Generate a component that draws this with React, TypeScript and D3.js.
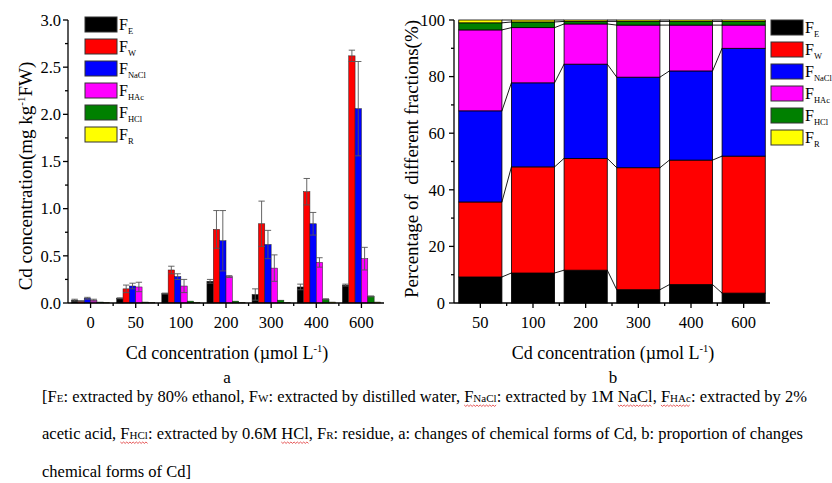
import React, { useEffect, useRef } from 'react';
import * as d3 from 'd3';

// fraction names, subscripts and colours
const series = ['E', 'W', 'NaCl', 'HAc', 'HCl', 'R'];
const colors = ['#000000', '#ff0000', '#0000ff', '#ff00ff', '#008000', '#ffff00'];

// panel a: concentration (mg/kg FW)
const catsA = ['0', '50', '100', '200', '300', '400', '600'];
const FE = [0.03, 0.05, 0.10, 0.23, 0.09, 0.17, 0.19];
const FW = [0.02, 0.15, 0.35, 0.78, 0.84, 1.18, 2.62];
const FNaCl = [0.05, 0.18, 0.28, 0.66, 0.62, 0.84, 2.06];
const FHAc = [0.03, 0.17, 0.18, 0.28, 0.37, 0.43, 0.47];
const FHCl = [0.01, 0.01, 0.02, 0.02, 0.03, 0.04, 0.07];
const FR = [0.005, 0.005, 0.008, 0.005, 0.005, 0.01, 0.01];
const errFE = [0.01, 0.005, 0.005, 0.02, 0.06, 0.03, 0.01];
const errFW = [0.005, 0.04, 0.04, 0.2, 0.24, 0.14, 0.06];
const errFNaCl = [0.01, 0.03, 0.03, 0.32, 0.15, 0.12, 0.5];
const errFHAc = [0.01, 0.05, 0.07, 0.01, 0.14, 0.05, 0.12];
const errFHCl = [0, 0, 0, 0, 0, 0.005, 0.005];
const errFR = [0, 0, 0, 0, 0, 0, 0];

// panel b: percentage of fractions
const catsB = ['50', '100', '200', '300', '400', '600'];
const pFE = [9.2, 10.6, 11.6, 4.7, 6.5, 3.5];
const pFW = [26.5, 37.5, 39.5, 43.1, 44.0, 48.4];
const pFNaCl = [32.2, 29.7, 33.3, 32.0, 31.5, 38.1];
const pFHAc = [28.6, 19.5, 14.2, 18.4, 16.2, 8.2];
const pFHCl = [2.5, 2.0, 0.9, 1.3, 1.3, 1.3];
const pFR = [1.0, 0.7, 0.5, 0.5, 0.5, 0.5];

const valsA = [FE, FW, FNaCl, FHAc, FHCl, FR];
const errsA = [errFE, errFW, errFNaCl, errFHAc, errFHCl, errFR];
const valsB = [pFE, pFW, pFNaCl, pFHAc, pFHCl, pFR];

// words the spell checker marked in the caption: [line, word, occurrence]
const squiggles: [number, string, number][] = [
  [0, 'FNaCl', 0], [0, 'NaCl', 1], [0, 'FHAc', 0],
  [1, 'FHCl', 0], [1, 'HCl', 1],
];

const FONT = 'Liberation Serif, Times New Roman, serif';

function Legend({ x, y }: { x: number; y: number }) {
  return (
    <g>
      {series.map((s, i) => (
        <g key={s} transform={`translate(${x},${y + i * 22})`}>
          <rect x={0} y={0} width={32} height={15} fill={colors[i]} stroke="#333" strokeWidth={1} />
          <text x={34} y={13} fontSize={16}>
            F<tspan fontSize={8.5} dy={4}>{s}</tspan>
          </text>
        </g>
      ))}
    </g>
  );
}

export default function App() {
  const top = 20, bottom = 303;
  const line1 = useRef<SVGTextElement>(null);
  const line2 = useRef<SVGTextElement>(null);
  const wavy = useRef<SVGGElement>(null);

  // red wavy underlines under the marked words, placed from the rendered glyphs
  useEffect(() => {
    const g = d3.select(wavy.current);
    g.selectAll('*').remove();
    const lines = [line1.current, line2.current];
    squiggles.forEach(([li, word, occ]) => {
      const el = lines[li];
      if (!el) return;
      const s = el.textContent || '';
      let idx = -1;
      for (let k = 0; k <= occ; k++) idx = s.indexOf(word, idx + 1);
      if (idx < 0) return;
      const p0 = el.getStartPositionOfChar(idx);
      const p1 = el.getEndPositionOfChar(idx + word.length - 1);
      const pts: [number, number][] = [];
      for (let x = p0.x, k = 0; x <= p1.x; x += 1.6, k++) pts.push([x, p0.y + 3 + (k % 2 ? 1.4 : 0)]);
      g.append('path').attr('d', d3.line()(pts)).attr('fill', 'none').attr('stroke', '#e03030').attr('stroke-width', 0.8);
    });
  }, []);

  // ----- panel a -----
  const xA = d3.scaleBand().domain(catsA).range([68, 384]).padding(0);
  const inner = d3.scaleBand().domain(series).range([3.5, xA.bandwidth() - 3.5]).padding(0);
  const yA = d3.scaleLinear().domain([0, 3]).range([bottom, top]);
  const majorA = d3.range(0, 3.01, 0.5);
  const minorA = d3.range(0.25, 3, 0.5);

  // ----- panel b -----
  const xB = d3.scaleBand().domain(catsB).range([454, 770]).paddingInner(0.18).paddingOuter(0.09);
  const yB = d3.scaleLinear().domain([0, 100]).range([bottom, top]);
  const stack = d3.stack<any>().keys(series.map((_, i) => String(i)));
  const tableB = catsB.map((_, j) => {
    const row: any = {};
    valsB.forEach((v, i) => (row[String(i)] = v[j]));
    return row;
  });
  const stacked = stack(tableB);
  const stepB = xB.step();

  return (
    <svg width={832} height={483} fontFamily={FONT} style={{ position: 'absolute', left: 0, top: 0, background: '#fff' }}>
      {/* ===== panel a ===== */}
      {valsA.map((vals, si) =>
        vals.map((v, ci) => {
          const x0 = (xA(catsA[ci]) as number) + (inner(series[si]) as number);
          const w = inner.bandwidth();
          return (
            <rect key={`a${si}-${ci}`} x={x0} y={yA(v)} width={w} height={yA(0) - yA(v)}
              fill={colors[si]} stroke="#222" strokeWidth={0.5} />
          );
        })
      )}
      {errsA.map((errs, si) =>
        errs.map((e, ci) => {
          if (e <= 0) return null;
          const cx = (xA(catsA[ci]) as number) + (inner(series[si]) as number) + inner.bandwidth() / 2;
          const v = valsA[si][ci];
          const hw = inner.bandwidth() / 2;
          return (
            <g key={`e${si}-${ci}`} stroke="#555" strokeWidth={0.9} fill="none">
              <line x1={cx} x2={cx} y1={yA(v - e)} y2={yA(v + e)} />
              <line x1={cx - hw} x2={cx + hw} y1={yA(v + e)} y2={yA(v + e)} />
              <line x1={cx - hw} x2={cx + hw} y1={yA(v - e)} y2={yA(v - e)} />
            </g>
          );
        })
      )}
      <g stroke="#000" strokeWidth={1.3}>
        <line x1={68} x2={68} y1={top} y2={bottom} />
        <line x1={68} x2={384} y1={bottom} y2={bottom} />
        {majorA.map(t => <line key={`ya${t}`} x1={63} x2={68} y1={yA(t)} y2={yA(t)} />)}
        {minorA.map(t => <line key={`yam${t}`} x1={65} x2={68} y1={yA(t)} y2={yA(t)} />)}
        {catsA.map(c => {
          const cx = (xA(c) as number) + xA.bandwidth() / 2;
          return <line key={`xa${c}`} x1={cx} x2={cx} y1={bottom} y2={bottom + 5} />;
        })}
        {catsA.slice(1).map(c => {
          const bx = xA(c) as number;
          return <line key={`xam${c}`} x1={bx} x2={bx} y1={bottom} y2={bottom + 3} />;
        })}
      </g>
      <g fontSize={16.5} fill="#000">
        {majorA.map(t => (
          <text key={`yla${t}`} x={61} y={yA(t)} dy="0.35em" textAnchor="end">{t.toFixed(1)}</text>
        ))}
        {catsA.map(c => (
          <text key={`xla${c}`} x={(xA(c) as number) + xA.bandwidth() / 2} y={328} textAnchor="middle">{c}</text>
        ))}
      </g>
      <text transform="translate(32,176) rotate(-90)" textAnchor="middle" fontSize={19}>
        Cd concentration(mg kg<tspan fontSize={11} dy={-7}>-1</tspan><tspan dy={7}>FW)</tspan>
      </text>
      <text x={227} y={359} textAnchor="middle" fontSize={18}>
        Cd concentration (µmol L<tspan fontSize={10.5} dy={-7}>-1</tspan><tspan dy={7}>)</tspan>
      </text>
      <text x={227} y={383} textAnchor="middle" fontSize={17}>a</text>
      <Legend x={85} y={17} />

      {/* ===== panel b ===== */}
      {stacked.map((layer, si) =>
        layer.map((d, ci) => (
          <rect key={`b${si}-${ci}`} x={xB(catsB[ci])} y={yB(d[1])} width={xB.bandwidth()}
            height={yB(d[0]) - yB(d[1])} fill={colors[si]} stroke="#000" strokeWidth={0.8} />
        ))
      )}
      {stacked.map((layer, si) =>
        layer.slice(0, -1).map((d, ci) => {
          const nx = layer[ci + 1];
          const x1 = (xB(catsB[ci]) as number) + xB.bandwidth();
          const x2 = xB(catsB[ci + 1]) as number;
          return <line key={`c${si}-${ci}`} x1={x1} x2={x2} y1={yB(d[1])} y2={yB(nx[1])} stroke="#000" strokeWidth={0.9} />;
        })
      )}
      <g stroke="#000" strokeWidth={1.3}>
        <line x1={454} x2={454} y1={top} y2={bottom} />
        <line x1={454} x2={770} y1={bottom} y2={bottom} />
        {d3.range(0, 101, 20).map(t => <line key={`yb${t}`} x1={449} x2={454} y1={yB(t)} y2={yB(t)} />)}
        {d3.range(10, 100, 20).map(t => <line key={`ybm${t}`} x1={451} x2={454} y1={yB(t)} y2={yB(t)} />)}
        {catsB.map(c => {
          const cx = (xB(c) as number) + xB.bandwidth() / 2;
          return <line key={`xb${c}`} x1={cx} x2={cx} y1={bottom} y2={bottom + 5} />;
        })}
        {catsB.slice(1).map(c => {
          const bx = (xB(c) as number) + xB.bandwidth() / 2 - stepB / 2;
          return <line key={`xbm${c}`} x1={bx} x2={bx} y1={bottom} y2={bottom + 3} />;
        })}
      </g>
      <g fontSize={16.5} fill="#000">
        {d3.range(0, 101, 20).map(t => (
          <text key={`ylb${t}`} x={445} y={yB(t)} dy="0.35em" textAnchor="end">{t}</text>
        ))}
        {catsB.map(c => (
          <text key={`xlb${c}`} x={(xB(c) as number) + xB.bandwidth() / 2} y={328} textAnchor="middle">{c}</text>
        ))}
      </g>
      <text transform="translate(418,159) rotate(-90)" textAnchor="middle" fontSize={19} style={{ whiteSpace: 'pre' }}>
        Percentage of  different fractions(%)
      </text>
      <text x={613} y={359} textAnchor="middle" fontSize={18}>
        Cd concentration (µmol L<tspan fontSize={10.5} dy={-7}>-1</tspan><tspan dy={7}>)</tspan>
      </text>
      <text x={613} y={383} textAnchor="middle" fontSize={17}>b</text>
      <Legend x={771} y={20} />

      {/* ===== caption ===== */}
      <g fontSize={16.5} fill="#000">
        <text ref={line1} x={42} y={402} textLength={765} lengthAdjust="spacing">
          [F<tspan fontSize={11}>E</tspan>: extracted by 80% ethanol, F<tspan fontSize={11}>W</tspan>: extracted by distilled water, F<tspan fontSize={11}>NaCl</tspan>: extracted by 1M NaCl, F<tspan fontSize={11}>HAc</tspan>: extracted by 2%
        </text>
        <text ref={line2} x={42} y={439} textLength={761} lengthAdjust="spacing">
          acetic acid, F<tspan fontSize={11}>HCl</tspan>: extracted by 0.6M HCl, F<tspan fontSize={11}>R</tspan>: residue, a: changes of chemical forms of Cd, b: proportion of changes
        </text>
        <text x={42} y={477}>chemical forms of Cd]</text>
      </g>
      <g ref={wavy} />
    </svg>
  );
}
